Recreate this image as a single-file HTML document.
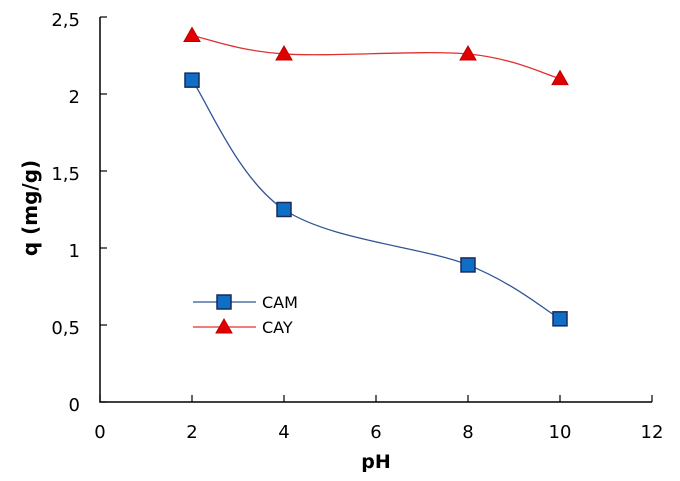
<!DOCTYPE html>
<html><head><meta charset="utf-8"><style>
body{margin:0;background:#fff}
svg text{font-family:"DejaVu Sans","Liberation Sans",sans-serif}
</style></head><body>
<svg id="c" width="680" height="476"></svg>
<script>
const xTicks=[0,2,4,6,8,10,12];
const yTicks=[0,0.5,1,1.5,2,2.5];
const yLabels=["0","0,5","1","1,5","2","2,5"];
const xCAM=[2,4,8,10];
const yCAM=[2.09,1.25,0.89,0.54];
const xCAY=[2,4,8,10];
const yCAY=[2.38,2.26,2.26,2.10];
const NS="http://www.w3.org/2000/svg";
const svg=document.getElementById('c');
const X0=100,X1=652,Y0=402,Y1=17;
function sx(v){return X0+(v-0)/(12-0)*(X1-X0);}
function sy(v){return Y0-(v/2.5)*(Y0-Y1);}
function el(t,a,p){const e=document.createElementNS(NS,t);for(const k in a)e.setAttribute(k,a[k]);(p||svg).appendChild(e);return e;}
let ax=el('path',{d:`M${X0},${Y1} V${Y0} H${X1}`,stroke:'#000','stroke-width':1.5,fill:'none'});


xTicks.forEach(v=>{
 let t=el('line',{x1:sx(v),x2:sx(v),y1:Y0,y2:Y0-7,stroke:'#000','stroke-width':1.2});
 
 
 let l=el('text',{x:sx(v),y:Y0+36,'text-anchor':'middle','font-size':18});
 l.textContent=v;
 
 
});
yTicks.forEach((v,i)=>{
 let t=el('line',{x1:X0,x2:X0+7,y1:sy(v),y2:sy(v),stroke:'#000','stroke-width':1.2});
 
 
 let l=el('text',{x:80,y:sy(v)+9,'text-anchor':'end','font-size':18});
 l.textContent=yLabels[i];
 
 
});
let xt=el('text',{x:376,y:468,'text-anchor':'middle','font-size':19,'font-weight':'bold'});
xt.textContent='pH';


let yt=el('text',{x:0,y:0,'text-anchor':'middle','font-size':20,'font-weight':'bold',transform:`translate(37,208) rotate(-90)`});
yt.textContent='q (mg/g)';


function smooth(xs,ys){
 const p=xs.map((x,i)=>[sx(x),sy(ys[i])]);
 let d=`M${p[0][0]},${p[0][1]}`;
 for(let i=0;i<p.length-1;i++){
  const a=p[i-1]||p[i],b=p[i],c=p[i+1],e=p[i+2]||c;
  const t=0.5/3*2;
  d+=` C${b[0]+(c[0]-a[0])*t/2},${b[1]+(c[1]-a[1])*t/2} ${c[0]-(e[0]-b[0])*t/2},${c[1]-(e[1]-b[1])*t/2} ${c[0]},${c[1]}`;
 }
 return d;
}
let l1=el('path',{d:smooth(xCAM,yCAM),stroke:'#2f5597','stroke-width':1.3,fill:'none'});


let l2=el('path',{d:smooth(xCAY,yCAY),stroke:'#e03030','stroke-width':1.3,fill:'none'});


function sq(cx,cy){return el('rect',{x:cx-7,y:cy-7,width:14,height:14,fill:'#0f6fc6',stroke:'#1a2a5a','stroke-width':1.5});}
function tri(cx,cy){return el('path',{d:`M${cx},${cy-8} L${cx+8},${cy+6} L${cx-8},${cy+6} Z`,fill:'#e00000',stroke:'#c00000','stroke-width':1});}
xCAM.forEach((x,i)=>{let m=sq(sx(x),sy(yCAM[i]));
 
 });
xCAY.forEach((x,i)=>{let m=tri(sx(x),sy(yCAY[i]));
 
 });
let g1=el('line',{x1:193,x2:256,y1:302,y2:302,stroke:'#2f5597','stroke-width':1.3});


let m1=sq(224,302);


let t1=el('text',{x:262,y:308,'font-size':16});t1.textContent='CAM';


let g2=el('line',{x1:193,x2:256,y1:327,y2:327,stroke:'#e03030','stroke-width':1.3});


let m2=tri(224,327);


let t2=el('text',{x:262,y:333,'font-size':16});t2.textContent='CAY';


</script>
</body></html>
